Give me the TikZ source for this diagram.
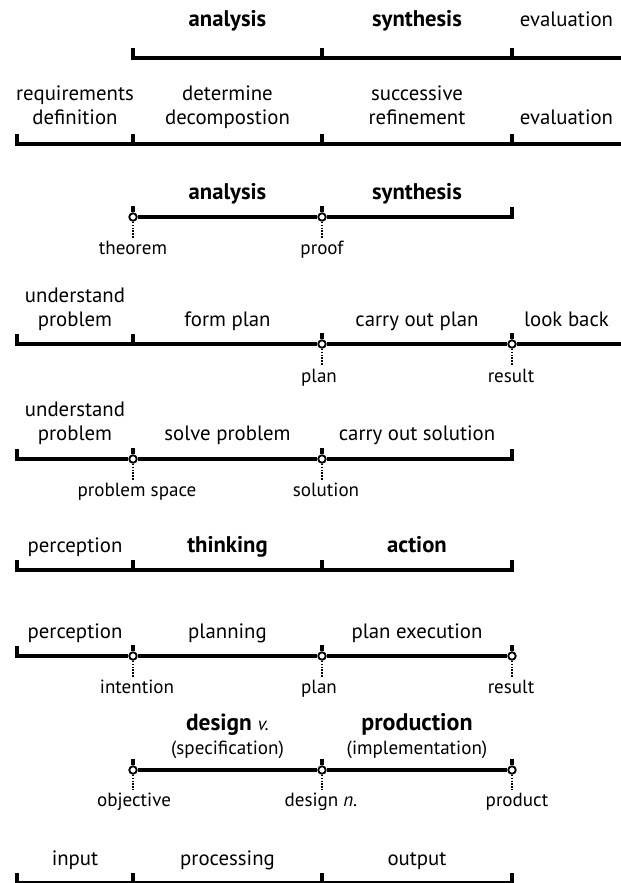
\documentclass[tikz,border=0pt]{standalone}
\usepackage{fontspec}
\setmainfont{PT Sans}

\begin{document}
\begin{tikzpicture}
  [
    x = 0.75pt, y = -0.75pt,  % pixel grid, y downwards
    bar/.style = {line width=2.3pt},
    leader/.style = {line width=1.1pt, dash pattern=on 0.9pt off 1.3pt},
    stage/.style = {draw, circle, fill=white, line width=1.4pt, minimum size=5.6pt, inner sep=0pt},
    phase/.style = {anchor=base, align=center, font=\fontsize{15.6}{17.3}\selectfont},
    key/.style = {phase, font=\bfseries\fontsize{17}{19}\selectfont},
    point/.style = {anchor=base, inner sep=2pt, font=\fontsize{14.3}{16}\selectfont}
  ]
  \useasboundingbox (0,0) rectangle (621,883);

  % row 1
  \coordinate (r1b) at (133,58);
  \coordinate (r1c) at (322,58);
  \coordinate (r1d) at (512,58);
  \coordinate (r1e) at (621,58);
  \draw[bar] (r1b) ++(0,-10) -- (r1b) -- (r1e);
  \draw[bar] (r1c) -- ++(0,-10);
  \draw[bar] (r1d) -- ++(0,-10);
  \node[key]   (ana1)  at (227.5,26) {analysis};
  \node[key]   (syn1)  at (417,26)   {synthesis};
  \node[phase] (eval1) at (566.5,26) {evaluation};

  % row 2
  \coordinate (r2a) at (17,144);
  \coordinate (r2b) at (133,144);
  \coordinate (r2c) at (322,144);
  \coordinate (r2d) at (512,144);
  \coordinate (r2e) at (621,144);
  \draw[bar] (r2a) ++(0,-10) -- (r2a) -- (r2e);
  \draw[bar] (r2b) -- ++(0,-10);
  \draw[bar] (r2c) -- ++(0,-10);
  \draw[bar] (r2d) -- ++(0,-10);
  \node[phase] (req)   at (75,124)    {requirements\\definition};
  \node[phase] (dec)   at (227.5,124) {determine\\decompostion};
  \node[phase] (ref)   at (417,124)   {successive\\refinement};
  \node[phase] (eval2) at (566.5,124) {evaluation};

  % row 3
  \node[stage] (r3b) at (133,217) {};
  \node[stage] (r3c) at (322,217) {};
  \coordinate  (r3d) at (512,217);
  \draw[bar] (r3b) -- (r3c) -- (r3d) -- ++(0,-10);
  \draw[bar] (r3b.north) -- ++(0,-6);
  \draw[bar] (r3c.north) -- ++(0,-6);
  \node[key]   (ana3)  at (227.5,199) {analysis};
  \node[key]   (syn3)  at (417,199)   {synthesis};
  \node[point] (thm)   at (133,254)   {theorem};
  \node[point] (proof) at (322,254)   {proof};
  \draw[leader] (r3b.south) -- (thm.north);
  \draw[leader] (r3c.south) -- (proof.north);

  % row 4
  \coordinate  (r4a) at (17,344);
  \coordinate  (r4b) at (133,344);
  \node[stage] (r4c) at (322,344) {};
  \node[stage] (r4d) at (512,344) {};
  \coordinate  (r4e) at (621,344);
  \draw[bar] (r4a) ++(0,-10) -- (r4a) -- (r4c) -- (r4d) -- (r4e);
  \draw[bar] (r4b) -- ++(0,-10);
  \draw[bar] (r4c.north) -- ++(0,-6);
  \draw[bar] (r4d.north) -- ++(0,-6);
  \node[phase] (und4)  at (75,326)    {understand\\problem};
  \node[phase] (form)  at (227.5,326) {form plan};
  \node[phase] (carry) at (417,326)   {carry out plan};
  \node[phase] (look)  at (566.5,326) {look back};
  \node[point] (plan4) at (319,382)   {plan};
  \node[point] (res4)  at (511,382)   {result};
  \draw[leader] (r4c.south) -- (r4c |- plan4.north);
  \draw[leader] (r4d.south) -- (r4d |- res4.north);

  % row 5
  \coordinate  (r5a) at (17,459);
  \node[stage] (r5b) at (133,459) {};
  \node[stage] (r5c) at (322,459) {};
  \coordinate  (r5d) at (512,459);
  \draw[bar] (r5a) ++(0,-10) -- (r5a) -- (r5b) -- (r5c) -- (r5d) -- ++(0,-10);
  \draw[bar] (r5b.north) -- ++(0,-6);
  \draw[bar] (r5c.north) -- ++(0,-6);
  \node[phase] (und5)  at (75,440)    {understand\\problem};
  \node[phase] (solve) at (227.5,440) {solve problem};
  \node[phase] (cos)   at (417,440)   {carry out solution};
  \node[point] (space) at (137,496)   {problem space};
  \node[point] (sol)   at (326,496)   {solution};
  \draw[leader] (r5b.south) -- (r5b |- space.north);
  \draw[leader] (r5c.south) -- (r5c |- sol.north);

  % row 6
  \coordinate (r6a) at (17,570);
  \coordinate (r6b) at (133,570);
  \coordinate (r6c) at (322,570);
  \coordinate (r6d) at (512,570);
  \draw[bar] (r6a) ++(0,-10) -- (r6a) -- (r6d) -- ++(0,-10);
  \draw[bar] (r6b) -- ++(0,-10);
  \draw[bar] (r6c) -- ++(0,-10);
  \node[phase] (perc6) at (75,552)    {perception};
  \node[key]   (think) at (227.5,552) {thinking};
  \node[key]   (act)   at (417,552)   {action};

  % row 7
  \coordinate  (r7a) at (17,656);
  \node[stage] (r7b) at (133,656) {};
  \node[stage] (r7c) at (322,656) {};
  \node[stage] (r7d) at (512,656) {};
  \draw[bar] (r7a) ++(0,-10) -- (r7a) -- (r7b) -- (r7c) -- (r7d);
  \draw[bar] (r7b.north) -- ++(0,-6);
  \draw[bar] (r7c.north) -- ++(0,-6);
  \draw[bar] (r7d.north) -- ++(0,-6);
  \node[phase] (perc7) at (75,638)    {perception};
  \node[phase] (plng)  at (227.5,638) {planning};
  \node[phase] (pexec) at (417,638)   {plan execution};
  \node[point] (int)   at (137,693)   {intention};
  \node[point] (plan7) at (319,693)   {plan};
  \node[point] (res7)  at (511,693)   {result};
  \draw[leader] (r7b.south) -- (r7b |- int.north);
  \draw[leader] (r7c.south) -- (r7c |- plan7.north);
  \draw[leader] (r7d.south) -- (r7d |- res7.north);

  % row 8
  \node[stage] (r8b) at (133,770) {};
  \node[stage] (r8c) at (322,770) {};
  \node[stage] (r8d) at (512,770) {};
  \draw[bar] (r8b) -- (r8c) -- (r8d);
  \draw[bar] (r8b.north) -- ++(0,-6);
  \draw[bar] (r8c.north) -- ++(0,-6);
  \draw[bar] (r8d.north) -- ++(0,-6);
  \node[phase] (dsgv) at (227.5,754)
    {{\fontsize{17.5}{19}\selectfont\bfseries design \normalfont\itshape\fontsize{14}{16}\selectfont v.}\\
     {\fontsize{14.3}{16}\selectfont(specification)}};
  \node[phase] (prod) at (417,754)
    {{\fontsize{18}{19}\selectfont\bfseries production}\\
     {\fontsize{14.3}{16}\selectfont(implementation)}};
  \node[point] (obj)  at (134,806) {objective};
  \node[point] (dsgn) at (321,806) {design \textit{n.}};
  \node[point] (prdt) at (517,806) {product};
  \draw[leader] (r8b.south) -- (r8b |- obj.north);
  \draw[leader] (r8c.south) -- (r8c |- dsgn.north);
  \draw[leader] (r8d.south) -- (r8d |- prdt.north);

  % row 9
  \coordinate (r9a) at (17,883);
  \coordinate (r9b) at (133,883);
  \coordinate (r9c) at (322,883);
  \coordinate (r9d) at (512,883);
  \draw[bar] (r9a) ++(0,-10) -- (r9a) -- (r9d) -- ++(0,-10);
  \draw[bar] (r9b) -- ++(0,-10);
  \draw[bar] (r9c) -- ++(0,-10);
  \node[phase] (inp)  at (75,865)    {input};
  \node[phase] (proc) at (227.5,865) {processing};
  \node[phase] (outp) at (417,865)   {output};
\end{tikzpicture}
\end{document}
